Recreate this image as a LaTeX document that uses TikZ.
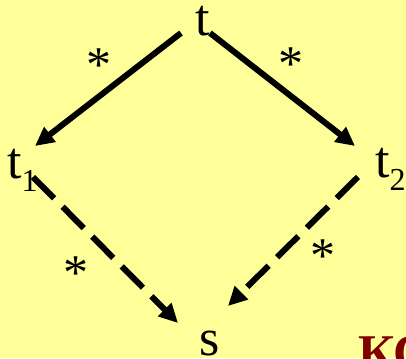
\documentclass[tikz,border=0pt]{standalone}
\usepackage{fontspec}
\setmainfont{Liberation Serif}
\usetikzlibrary{arrows.meta}
\definecolor{bgyellow}{RGB}{255,255,153}
\definecolor{darkred}{RGB}{128,0,0}
\tikzset{
  lbl/.style={inner sep=0pt, text height=30pt, text depth=0pt, font=\fontsize{52}{52}\selectfont},
  starlbl/.style={inner sep=0pt, font=\fontsize{50}{50}\selectfont},
  solidarrow/.style={line width=6pt, -{Triangle[length=19pt,width=18pt]}},
  dasharrow/.style={line width=6pt, dash pattern=on 30pt off 12pt, -{Triangle[length=19pt,width=18pt]}}
}
\newcommand{\subnum}[1]{\raisebox{-13pt}{\fontsize{32}{32}\selectfont #1}}
\begin{document}
\begin{tikzpicture}[x=1pt,y=-1pt]
\useasboundingbox (0,0) rectangle (406,358);
\clip (0,0) rectangle (406,358);
\fill[bgyellow] (0,0) rectangle (406,358);
% labels
\node[lbl, anchor=base west] (t) at (195,36) {t};
\node[lbl, anchor=base west] (t1) at (7,178) {t\subnum{1}};
\node[lbl, anchor=base west] (t2) at (375,177) {t\subnum{2}};
\node[lbl, anchor=base west] (s) at (199,355) {s};
% connector ends
\coordinate (tA) at (181,33);
\coordinate (tB) at (210,33);
\coordinate (t1in) at (35,146);
\coordinate (t2in) at (355,146);
\coordinate (t1out) at (33,177);
\coordinate (t2out) at (358,177);
\coordinate (sA) at (178,323);
\coordinate (sB) at (228,306);
\draw[solidarrow] (tA) -- (t1in);
\draw[solidarrow] (tB) -- (t2in);
\draw[dasharrow] (t1out) -- (sA);
\draw[dasharrow] (t2out) -- (sB);
% stars
\node[starlbl, anchor=base] (st1) at (99,82) {*};
\node[starlbl, anchor=base] (st2) at (291,81) {*};
\node[starlbl, anchor=base] (st3) at (76,289) {*};
\node[starlbl, anchor=base] (st4) at (323,272) {*};
% cut-off title
\node[inner sep=0pt, anchor=base west, text=darkred, font=\fontsize{50}{50}\selectfont\bfseries] (ks) at (358,369) {КС};
\end{tikzpicture}
\end{document}
